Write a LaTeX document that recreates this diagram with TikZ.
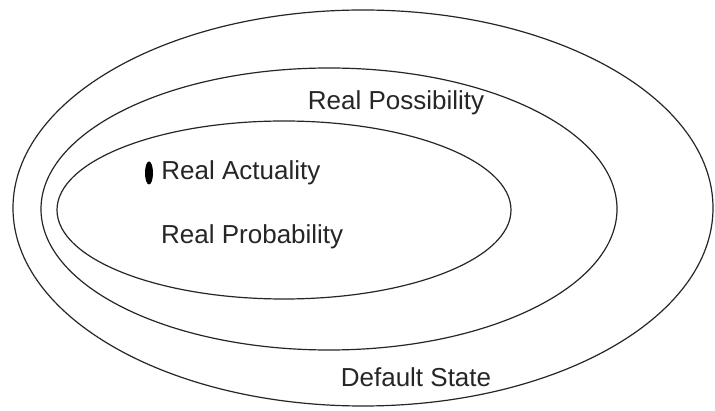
\documentclass[tikz,border=0pt]{standalone}
\usepackage{fontspec}
\setmainfont{Liberation Sans}
\usetikzlibrary{shapes.geometric, positioning}

\begin{document}
\begin{tikzpicture}[
    x=1pt, y=-1pt,
    region/.style={ellipse, draw=black!85, line width=1.2pt, inner sep=0pt,
                   minimum width=#1},
    label/.style={font=\fontsize{26}{31}\selectfont, text=black!85, inner sep=0pt},
]
\useasboundingbox[fill=white] (0,0) rectangle (715,411);

% ── Regions ──
\node[region=700pt, minimum height=396pt] (default) at (363,208) {};
\node[region=576pt, minimum height=282pt] (possible) at (329,209) {};
\node[region=454pt, minimum height=178pt] (probable) at (284,210) {};
\node[ellipse, fill=black, inner sep=0pt, minimum width=8pt, minimum height=23pt] (actual) at (149,173) {};

% ── Labels ──
\node[label] (possibleText) at (396,103) {Real Possibility};
\node[label, right=8pt of actual] (actualText) {Real Actuality};
\node[label, anchor=west] (probableText) at (161,237) {Real Probability};
\node[label] (defaultText) at (416,377) {Default State};

\end{tikzpicture}
\end{document}
